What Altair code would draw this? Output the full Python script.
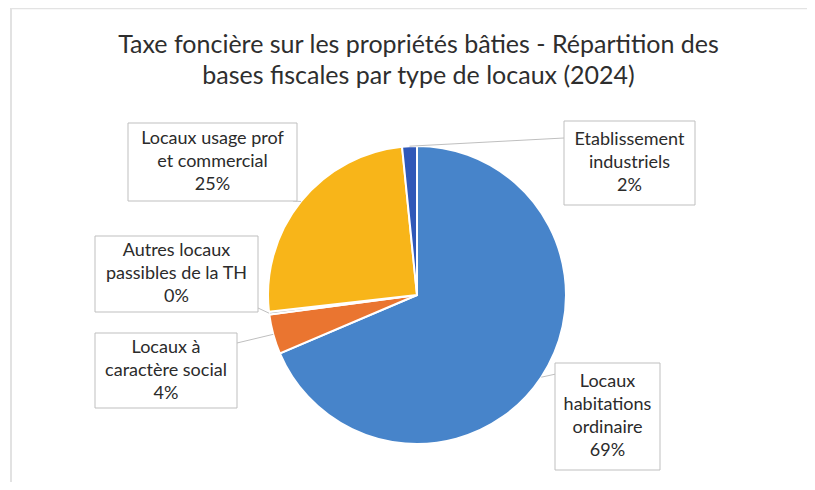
import altair as alt
import pandas as pd
import numpy as np

# ---- data ----
categories = ["Locaux habitations ordinaire", "Locaux à caractère social",
              "Autres locaux passibles de la TH", "Locaux usage prof et commercial",
              "Etablissement industriels"]
shares = [68.6, 4.3, 0.3, 25.2, 1.6]
pct_labels = ["69%", "4%", "0%", "25%", "2%"]
label_lines = [["Locaux", "habitations", "ordinaire"],
               ["Locaux à", "caractère social"],
               ["Autres locaux", "passibles de la TH"],
               ["Locaux usage prof", "et commercial"],
               ["Etablissement", "industriels"]]
colors = ["#4784CA", "#EA7530", "#A5A5A5", "#F8B519", "#2F58B8"]

title_lines = ["Taxe foncière sur les propriétés bâties - Répartition des",
               "bases fiscales par type de locaux (2024)"]

# ---- layout (pixels, chart coords) ----
W, H = 799, 474
CX, CY, R = 409, 287, 149
FONT = "Lato"
# boxes: x1, y1, x2, y2 and leader attach point on box
boxes = [(547, 355, 652, 462, 548, 366),
         (87, 325, 229, 400, 229, 335),
         (87, 228, 250, 304, 250, 300),
         (120, 115, 289, 193, 285, 193),
         (556, 113, 687, 197, 556, 130)]

df = pd.DataFrame({"cat": categories, "value": shares, "idx": range(len(categories))})

pie = alt.Chart(df).mark_arc(radius=R, x=CX, y=CY, stroke="white", strokeWidth=2).encode(
    theta=alt.Theta("value:Q", stack=True),
    color=alt.Color("cat:N", scale=alt.Scale(domain=categories, range=colors), legend=None),
    order=alt.Order("idx:Q"),
)

# leader lines: from slice mid-angle on the rim to the box
tot = sum(shares)
cum = np.cumsum([0] + shares[:-1])
lead_rows = []
box_rows = []
text_rows = []
for i, c in enumerate(categories):
    mid = (cum[i] + shares[i] / 2) / tot * 2 * np.pi
    px = CX + R * np.sin(mid)
    py = CY - R * np.cos(mid)
    bx1, by1, bx2, by2, ax, ay = boxes[i]
    lead_rows.append({"x": px, "y": py, "x2": ax, "y2": ay})
    box_rows.append({"x": bx1, "y": by1, "x2": bx2, "y2": by2})
    lines = label_lines[i] + [pct_labels[i]]
    n = len(lines)
    midy = (by1 + by2) / 2
    for j, t in enumerate(lines):
        text_rows.append({"x": (bx1 + bx2) / 2, "y": midy + (j - (n - 1) / 2) * 23, "t": t})

leads = alt.Chart(pd.DataFrame(lead_rows)).mark_rule(color="#BFBFBF", strokeWidth=1).encode(
    x=alt.X("x:Q", scale=None), y=alt.Y("y:Q", scale=None),
    x2="x2:Q", y2="y2:Q")

rects = alt.Chart(pd.DataFrame(box_rows)).mark_rect(fill="white", stroke="#BFBFBF", strokeWidth=1).encode(
    x=alt.X("x:Q", scale=None), y=alt.Y("y:Q", scale=None),
    x2="x2:Q", y2="y2:Q")

texts = alt.Chart(pd.DataFrame(text_rows)).mark_text(font=FONT, fontSize=18, color="#2B2B2B",
                                                     baseline="middle", align="center").encode(
    x=alt.X("x:Q", scale=None), y=alt.Y("y:Q", scale=None), text="t:N")

title_df = pd.DataFrame({"t": title_lines, "y": [37, 68]})
title = alt.Chart(title_df).mark_text(font=FONT, fontSize=25, color="#2E2E2E",
                                      baseline="middle", align="center").encode(
    x=alt.value(W / 2 + 11), y=alt.Y("y:Q", scale=None), text="t:N")

frame_l = alt.Chart(pd.DataFrame({"a": [0]})).mark_rule(color="#D9D9D9", strokeWidth=1.5).encode(
    x=alt.value(3), y=alt.value(0), y2=alt.value(H))
frame_t = alt.Chart(pd.DataFrame({"a": [0]})).mark_rule(color="#E3E3E3", strokeWidth=1.5).encode(
    x=alt.value(3), x2=alt.value(W), y=alt.value(0.5))

chart = alt.layer(frame_l, frame_t, title, pie, leads, rects, texts).properties(
    width=W, height=H, autosize="none", padding=0,
    background="white").configure_view(stroke=None)

chart.save("out.html", embed_options={"renderer": "svg", "actions": False})
